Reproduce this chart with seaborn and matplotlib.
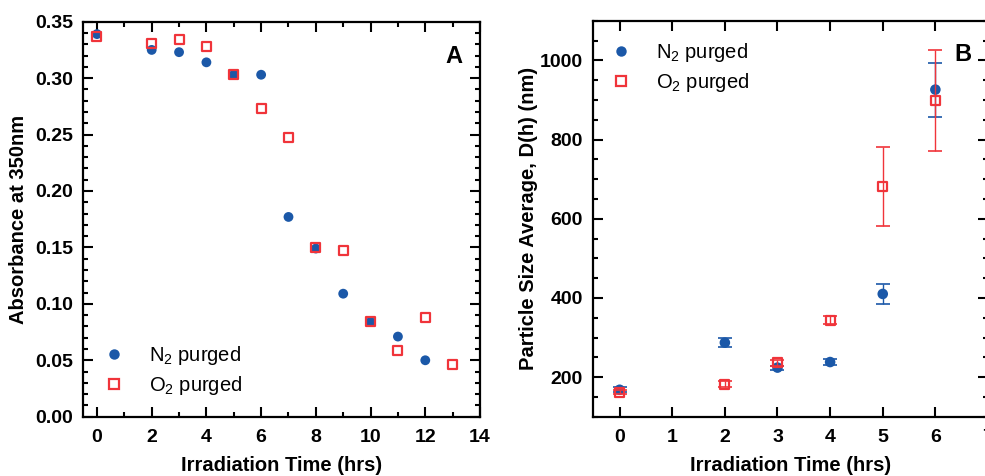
import numpy as np
import pandas as pd
import matplotlib
matplotlib.use("Agg")
import matplotlib.pyplot as plt
import seaborn as sns
from matplotlib.ticker import MultipleLocator
from matplotlib.lines import Line2D

# ---------------- data ----------------
# Panel A: absorbance at 350 nm
a_time_n2 = [0, 2, 3, 4, 5, 6, 7, 8, 9, 10, 11, 12]
a_abs_n2 = [0.339, 0.325, 0.323, 0.314, 0.303, 0.303, 0.177, 0.149, 0.109, 0.084, 0.071, 0.050]
a_time_o2 = [0, 2, 3, 4, 5, 6, 7, 8, 9, 10, 11, 12, 13]
a_abs_o2 = [0.337, 0.331, 0.334, 0.328, 0.303, 0.273, 0.247, 0.150, 0.147, 0.084, 0.059, 0.088, 0.046]

# Panel B: particle size average D(h) (nm)
b_time = [0, 2, 3, 4, 5, 6]
b_size_n2 = [168, 287, 224, 238, 410, 926]
b_err_n2 = [6, 11, 5, 8, 25, 68]
b_size_o2 = [162, 182, 236, 344, 681, 899]
b_err_o2 = [5, 8, 8, 10, 99, 127]

labels = ["N$_2$ purged", "O$_2$ purged"]
BLUE = "#1b58a8"
RED = "#f0343a"

# ---------------- style ----------------
sns.set_theme(style="white")
plt.rcParams["font.family"] = ["Liberation Sans", "DejaVu Sans"]
plt.rcParams["mathtext.fontset"] = "custom"
plt.rcParams["mathtext.rm"] = "Liberation Sans"
plt.rcParams["mathtext.it"] = "Liberation Sans:italic"
plt.rcParams["mathtext.bf"] = "Liberation Sans:bold"
for key in ["text.color", "axes.labelcolor", "xtick.color", "ytick.color",
            "xtick.labelcolor", "ytick.labelcolor", "axes.edgecolor"]:
    plt.rcParams[key] = "black"

W, H = 985, 476
fig = plt.figure(figsize=(W / 100, H / 100), dpi=100)

def px_axes(l, t, r, b):
    return fig.add_axes([l / W, 1 - b / H, (r - l) / W, (b - t) / H])

axA = px_axes(83.3, 21.7, 480.0, 416.7)
axB = px_axes(593.3, 20.7, 988.0, 416.7)

df_a_n2 = pd.DataFrame({"time": a_time_n2, "val": a_abs_n2})
df_a_o2 = pd.DataFrame({"time": a_time_o2, "val": a_abs_o2})
df_b_n2 = pd.DataFrame({"time": b_time, "val": b_size_n2, "err": b_err_n2})
df_b_o2 = pd.DataFrame({"time": b_time, "val": b_size_o2, "err": b_err_o2})

circ_s = 50
sq_s = 42

# Panel A
sns.scatterplot(data=df_a_n2, x="time", y="val", ax=axA, marker="o", s=circ_s,
                color=BLUE, edgecolor="none", linewidth=0, zorder=3)
sns.scatterplot(data=df_a_o2, x="time", y="val", ax=axA, marker="s", s=sq_s,
                facecolor="none", edgecolor=RED, linewidth=1.6, zorder=4)

# Panel B
axB.errorbar(df_b_n2["time"], df_b_n2["val"], yerr=df_b_n2["err"], fmt="none",
             ecolor=BLUE, elinewidth=1.0, capsize=5, capthick=1.2, zorder=2)
sns.scatterplot(data=df_b_n2, x="time", y="val", ax=axB, marker="o", s=circ_s + 8,
                color=BLUE, edgecolor="none", linewidth=0, zorder=3)
axB.errorbar(df_b_o2["time"], df_b_o2["val"], yerr=df_b_o2["err"], fmt="none",
             ecolor=RED, elinewidth=1.0, capsize=5, capthick=1.2, zorder=4)
sns.scatterplot(data=df_b_o2, x="time", y="val", ax=axB, marker="s", s=sq_s,
                facecolor="none", edgecolor=RED, linewidth=1.6, zorder=5)

# ---------------- axes formatting ----------------
tick_fs = 14
label_fs = 14.5

for ax in (axA, axB):
    for sp in ax.spines.values():
        sp.set_visible(True)
        sp.set_linewidth(1.6)
        sp.set_color("black")
    ax.tick_params(which="both", direction="in", top=True, right=True,
                   bottom=True, left=True, width=1.5, color="black",
                   labelcolor="black")
    ax.tick_params(which="major", length=7.5)
    ax.tick_params(which="minor", length=3.8)
    ax.tick_params(axis="x", which="both", pad=9, labelsize=tick_fs)
    ax.tick_params(axis="y", which="both", pad=7.5, labelsize=tick_fs)
    ax.grid(False)

# Panel A axes
axA.set_xlim(-0.5, 14)
axA.set_ylim(0, 0.35)
axA.xaxis.set_major_locator(MultipleLocator(2))
axA.xaxis.set_minor_locator(MultipleLocator(1))
axA.yaxis.set_major_locator(MultipleLocator(0.05))
axA.yaxis.set_minor_locator(MultipleLocator(0.01))
axA.yaxis.set_major_formatter(matplotlib.ticker.FormatStrFormatter("%.2f"))
axA.set_xlabel("Irradiation Time (hrs)", fontsize=label_fs, fontweight="bold", color="black")
axA.set_ylabel("Absorbance at 350nm", fontsize=label_fs, fontweight="bold", color="black")
axA.xaxis.set_label_coords(0.5, -0.1)
axA.yaxis.set_label_coords(-0.14, 0.5)
axA.text(0.955, 0.94, "A", transform=axA.transAxes, ha="right", va="top",
         fontsize=17, fontweight="bold", color="black")

# Panel B axes
axB.set_xlim(-0.5, 7.0)
axB.set_ylim(100, 1100)
axB.xaxis.set_major_locator(MultipleLocator(1))
axB.yaxis.set_minor_locator(MultipleLocator(50))
axB.set_yticks([200, 400, 600, 800, 1000])
axB.set_xlabel("Irradiation Time (hrs)", fontsize=label_fs, fontweight="bold", color="black")
axB.set_ylabel("Particle Size Average, D(h) (nm)", fontsize=label_fs, fontweight="bold", color="black")
axB.xaxis.set_label_coords(0.5, -0.1)
axB.yaxis.set_label_coords(-0.139, 0.5)
axB.text(0.959, 0.944, "B", transform=axB.transAxes, ha="right", va="top",
         fontsize=17, fontweight="bold", color="black")

for ax in (axA, axB):
    for lbl in ax.get_xticklabels() + ax.get_yticklabels():
        lbl.set_fontweight("bold")
        lbl.set_fontsize(tick_fs)
        lbl.set_color("black")

# ---------------- legends ----------------
def handles(ms_c=7.5, ms_s=7.5):
    return [
        Line2D([], [], linestyle="none", marker="o", markersize=ms_c,
               markerfacecolor=BLUE, markeredgecolor="none"),
        Line2D([], [], linestyle="none", marker="s", markersize=ms_s - 1,
               markerfacecolor="none", markeredgecolor=RED, markeredgewidth=1.6),
    ]

for ax, loc, anchor in ((axA, "lower left", (0.027, 0.05)),
                        (axB, "upper left", (0.0195, 0.948))):
    leg = ax.legend(handles(), labels, loc=loc, bbox_to_anchor=anchor,
                    frameon=False, borderaxespad=0, borderpad=0, fontsize=14.5,
                    handlelength=2.0, handletextpad=0.75, labelspacing=0.35)
    for t in leg.get_texts():
        t.set_color("black")

fig.savefig("out.png", dpi=100)
